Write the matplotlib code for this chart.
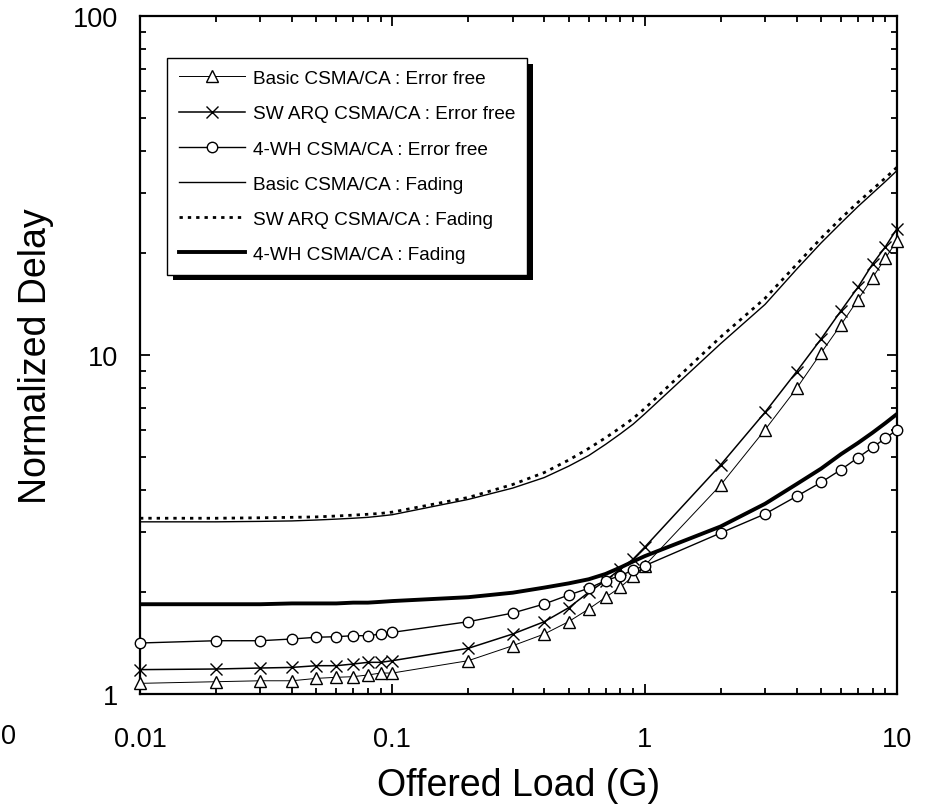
import numpy as np
import matplotlib
matplotlib.use('Agg')
import matplotlib.pyplot as plt
import matplotlib.patheffects as pe
from matplotlib.ticker import LogLocator, FixedLocator, FixedFormatter, NullFormatter

plt.rcParams['font.family'] = ['Liberation Sans', 'DejaVu Sans']

# offered load grid (G)
load = [0.01, 0.02, 0.03, 0.04, 0.05, 0.06, 0.07, 0.08, 0.09, 0.1,
        0.2, 0.3, 0.4, 0.5, 0.6, 0.7, 0.8, 0.9, 1,
        2, 3, 4, 5, 6, 7, 8, 9, 10]

# error free channel
basic_ef = [1.075, 1.087, 1.094, 1.094, 1.112, 1.12, 1.125, 1.138, 1.153, 1.153,
            1.254, 1.388, 1.503, 1.635, 1.781, 1.928, 2.064, 2.225, 2.39,
            4.135, 6.02, 7.97, 10.14, 12.29, 14.56, 16.9, 19.32, 21.75]
swarq_ef = [1.18, 1.185, 1.193, 1.198, 1.212, 1.212, 1.226, 1.24, 1.24, 1.254,
            1.364, 1.503, 1.634, 1.797, 1.995, 2.16, 2.335, 2.5, 2.71,
            4.74, 6.78, 8.93, 11.15, 13.51, 15.84, 18.55, 20.87, 23.6]
wh4_ef = [1.414, 1.436, 1.436, 1.453, 1.47, 1.476, 1.486, 1.486, 1.503, 1.52,
          1.634, 1.733, 1.843, 1.959, 2.05, 2.16, 2.233, 2.32, 2.39,
          2.985, 3.397, 3.83, 4.21, 4.59, 4.98, 5.34, 5.68, 6.02]

# fading channel
basic_fd = [3.22, 3.22, 3.23, 3.24, 3.26, 3.28, 3.30, 3.32, 3.35, 3.38,
            3.75, 4.05, 4.35, 4.7, 5.05, 5.45, 5.85, 6.25, 6.7,
            10.8, 14.1, 17.9, 21.4, 24.5, 27.4, 30.0, 32.5, 35.0]
swarq_fd = [3.30, 3.30, 3.31, 3.32, 3.33, 3.35, 3.37, 3.39, 3.41, 3.44,
            3.80, 4.15, 4.5, 4.9, 5.3, 5.7, 6.1, 6.5, 6.95,
            11.3, 14.7, 18.5, 22.1, 25.3, 28.2, 30.8, 33.3, 35.8]
wh4_fd = [1.84, 1.84, 1.84, 1.85, 1.85, 1.85, 1.86, 1.86, 1.87, 1.88,
          1.93, 1.99, 2.06, 2.12, 2.18, 2.26, 2.36, 2.46, 2.55,
          3.12, 3.64, 4.16, 4.62, 5.1, 5.5, 5.9, 6.3, 6.7]

xticks = [0.01, 0.1, 1, 10]
xtick_labels = ['0.01', '0.1', '1', '10']
yticks = [1, 10, 100]
ytick_labels = ['1', '10', '100']

fig = plt.figure(figsize=(9.31, 8.12), dpi=100)
ax = fig.add_axes([140/931, 117/812, 757/931, 678/812])

ax.plot(load, basic_ef, color='k', lw=0.7, marker='^', ms=8.5, mfc='white', mec='k', mew=1.0,
        zorder=4, clip_on=False, label='Basic CSMA/CA : Error free')
ax.plot(load, swarq_ef, color='k', lw=1.1, marker='x', ms=9, mec='k', mew=1.0,
        zorder=4, clip_on=False, label='SW ARQ CSMA/CA : Error free')
ax.plot(load, wh4_ef, color='k', lw=1.0, marker='o', ms=7.5, mfc='white', mec='k', mew=1.0,
        zorder=4, clip_on=False, label='4-WH CSMA/CA : Error free')
ax.plot(load, basic_fd, color='k', lw=1.0, zorder=3, label='Basic CSMA/CA : Fading')
ax.plot(load, swarq_fd, color='k', lw=2.0, ls=(0, (1.2, 1.8)), zorder=3,
        label='SW ARQ CSMA/CA : Fading')
ax.plot(load, wh4_fd, color='k', lw=2.8, zorder=3, label='4-WH CSMA/CA : Fading')

ax.set_xscale('log')
ax.set_yscale('log')
ax.set_xlim(0.01, 10)
ax.set_ylim(1, 100)

ax.xaxis.set_major_locator(FixedLocator(xticks))
ax.xaxis.set_major_formatter(FixedFormatter(xtick_labels))
ax.yaxis.set_major_locator(FixedLocator(yticks))
ax.yaxis.set_major_formatter(FixedFormatter(ytick_labels))
ax.xaxis.set_minor_locator(LogLocator(base=10, subs=np.arange(2, 10)))
ax.yaxis.set_minor_locator(LogLocator(base=10, subs=np.arange(2, 10)))
ax.xaxis.set_minor_formatter(NullFormatter())
ax.yaxis.set_minor_formatter(NullFormatter())

ax.tick_params(which='both', direction='in', top=True, right=True, width=1.3, colors='k')
ax.tick_params(which='major', length=7.2, labelsize=19.5)
ax.tick_params(which='minor', length=4.5)
ax.tick_params(axis='x', which='major', pad=23)
ax.tick_params(axis='y', which='major', pad=16)
for s in ax.spines.values():
    s.set_linewidth(1.6)

ax.set_xlabel('Offered Load (G)', fontsize=27)
ax.set_ylabel('Normalized Delay', fontsize=27)
ax.xaxis.set_label_coords(0.5, -0.108)
ax.yaxis.set_label_coords(-0.113, 0.5)

leg = ax.legend(loc='upper left', bbox_to_anchor=((167-140)/757, 1-(59-17)/678),
                borderaxespad=0, fontsize=13.7, numpoints=1, handlelength=3.5,
                handletextpad=0.4, labelspacing=0.94, borderpad=0.62,
                fancybox=False, framealpha=1, edgecolor='k')
leg.get_frame().set_linewidth(1.0)
leg.get_frame().set_path_effects([pe.SimplePatchShadow(offset=(4, -4), shadow_rgbFace='k', alpha=1),
                                  pe.Normal()])

# stray tick label of the neighbouring panel, left edge of the crop
fig.text(1/931, 1-737/812, '0', fontsize=19.5, ha='left', va='center')

fig.savefig('out.png', dpi=100)
